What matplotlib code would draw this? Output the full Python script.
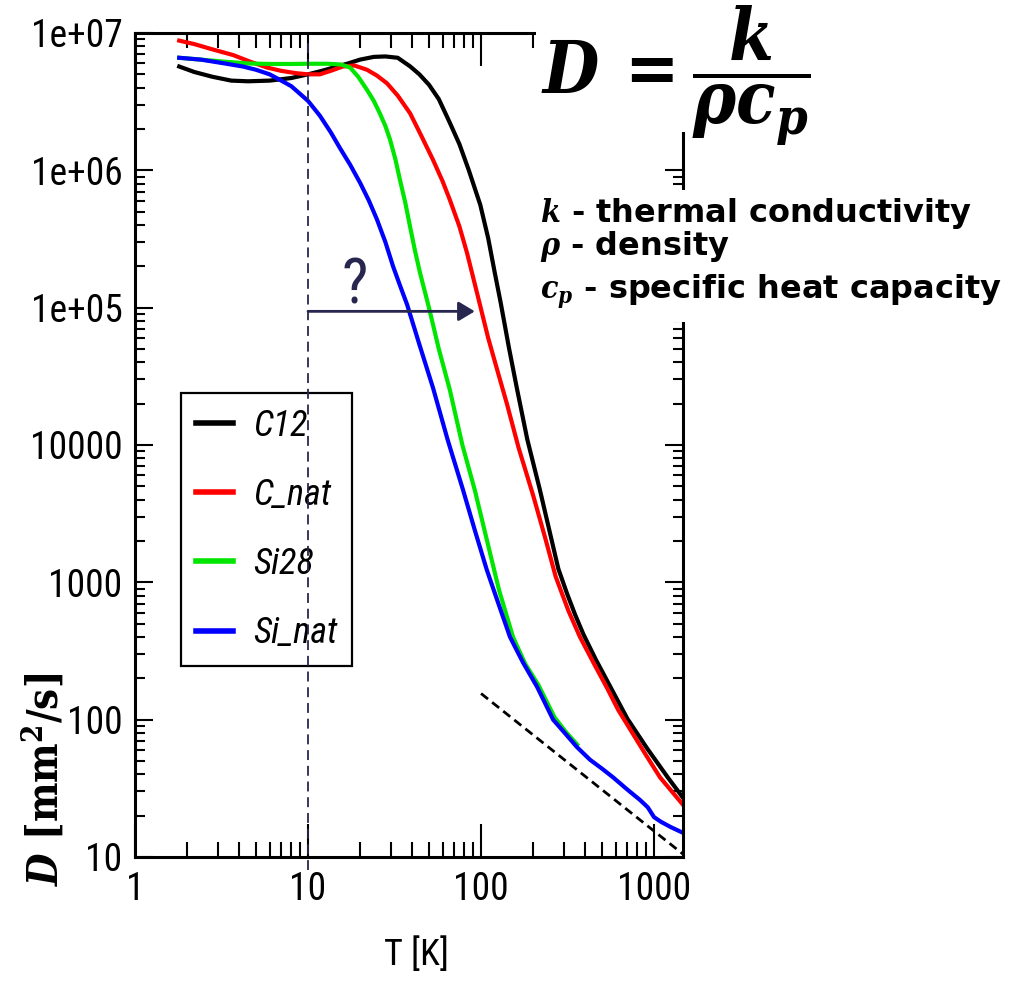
import matplotlib
matplotlib.use("Agg")
import matplotlib.pyplot as plt
from matplotlib.patches import Rectangle
from matplotlib.ticker import NullFormatter

# Thermal diffusivity D [mm^2/s] against temperature T [K]
T_C12 = [1.8, 2.2, 2.8, 3.6, 4.5, 6, 8, 10, 12, 14, 17, 20, 24, 28, 33, 39, 44, 50,
         57, 66, 75, 85, 99, 110, 120, 130, 145, 161, 185, 219, 250, 280, 315, 350,
         390, 460, 557, 700, 910, 1200, 1470]
D_C12 = [5.7e6, 5.2e6, 4.8e6, 4.5e6, 4.45e6, 4.5e6, 4.7e6, 5.0e6, 5.3e6, 5.6e6,
         6.0e6, 6.4e6, 6.7e6, 6.75e6, 6.6e6, 5.7e6, 5.0e6, 4.2e6, 3.3e6, 2.22e6,
         1.55e6, 1.0e6, 5.6e5, 3.2e5, 1.8e5, 1.08e5, 5.1e4, 2.6e4, 1.1e4, 4.7e3,
         2.3e3, 1.25e3, 820, 580, 420, 275, 175, 102, 62, 38, 27]

T_CNAT = [1.8, 2.2, 2.8, 3.7, 4.6, 5.8, 7, 8.5, 10, 11.7, 13.5, 15.9, 18.5, 21.9,
          25, 28.6, 33, 38.9, 45, 52.8, 60, 66, 75, 83, 96, 110, 125, 141, 165,
          200, 235, 270, 320, 373, 450, 535, 620, 700, 800, 900, 1083, 1470]
D_CNAT = [8.8e6, 8.3e6, 7.6e6, 6.9e6, 6.2e6, 5.6e6, 5.3e6, 5.1e6, 5.0e6, 5.0e6,
          5.3e6, 5.7e6, 5.8e6, 5.4e6, 4.9e6, 4.3e6, 3.5e6, 2.6e6, 1.8e6, 1.19e6,
          8.3e5, 6.1e5, 3.9e5, 2.5e5, 1.2e5, 6.0e4, 3.4e4, 2.0e4, 9.5e3, 4.3e3,
          2.1e3, 1.1e3, 620, 400, 255, 170, 118, 92, 70, 55, 38, 24]

T_SI28 = [1.8, 2.4, 3.2, 4.5, 6, 8, 10, 13, 15.5, 17.5, 19.5, 21.9, 24, 26, 28,
          29.8, 32, 34, 36.5, 38.9, 41.5, 44.4, 50, 57, 66, 78, 92, 108, 127, 153,
          180, 215, 266, 310, 359]
D_SI28 = [6.6e6, 6.4e6, 6.2e6, 6.0e6, 5.95e6, 5.95e6, 5.97e6, 5.97e6, 5.9e6, 5.6e6,
          4.8e6, 3.86e6, 3.2e6, 2.6e6, 2.1e6, 1.67e6, 1.2e6, 8.5e5, 5.8e5, 3.87e5,
          2.6e5, 1.79e5, 1.0e5, 5.0e4, 2.52e4, 1.0e4, 4.7e3, 2.04e3, 880, 400,
          255, 178, 104, 81, 66]

T_SINAT = [1.8, 2.4, 3.3, 4.2, 5, 6, 7, 8, 9, 10, 11.7, 13.5, 15.3, 17.5, 20, 22.5,
           25, 28, 31, 34, 37.4, 44, 52.8, 64, 78.7, 92, 108, 125, 147, 175, 211,
           261, 310, 359, 427, 500, 580, 700, 830, 920, 1000, 1100, 1250, 1470]
D_SINAT = [6.6e6, 6.4e6, 6.0e6, 5.7e6, 5.4e6, 5.0e6, 4.5e6, 4.1e6, 3.6e6, 3.2e6,
           2.5e6, 1.9e6, 1.45e6, 1.1e6, 8.1e5, 6.0e5, 4.4e5, 3.0e5, 2.0e5, 1.45e5,
           1.05e5, 5.4e4, 2.6e4, 1.1e4, 4.7e3, 2.4e3, 1.23e3, 720, 400, 260, 173,
           100, 78, 63, 51, 44, 38, 31, 26, 23, 19.5, 18, 16.5, 15]

LABELS = ["C12", "C_nat", "Si28", "Si_nat"]
COLORS = ["#000000", "#ff0000", "#00e600", "#0000ff"]

# 1/T guide line
GUIDE_T = [100, 1470]
GUIDE_D = [155, 10.5]

# marked temperature and the shift arrow
MARK_T = 10
ARROW_T = [10, 92]
ARROW_D = 9.4e4
QUESTION_T = 18.7
QUESTION_D = 1.08e5

X_TICKS = [1, 10, 100, 1000]
X_TICK_LABELS = ["1", "10", "100", "1000"]
Y_TICKS = [10, 100, 1000, 1e4, 1e5, 1e6, 1e7]
Y_TICK_LABELS = ["10", "100", "1000", "10000", "1e+05", "1e+06", "1e+07"]

NARROW = ["Roboto Condensed", "Roboto", "DejaVu Sans"]
NAVY = "#27264f"

plt.rcParams["font.family"] = NARROW
plt.rcParams["font.stretch"] = "condensed"
plt.rcParams["mathtext.fontset"] = "custom"
plt.rcParams["mathtext.rm"] = "DejaVu Serif:bold"
plt.rcParams["mathtext.it"] = "DejaVu Serif:italic:bold"
plt.rcParams["mathtext.bf"] = "DejaVu Serif:bold"

fig = plt.figure(figsize=(10.2, 9.82), dpi=100)
ax = fig.add_axes([0.1324, 0.1273, 0.5372, 0.8391])

series = [(T_C12, D_C12), (T_CNAT, D_CNAT), (T_SI28, D_SI28), (T_SINAT, D_SINAT)]
for (t, d), label, color in zip(series, LABELS, COLORS):
    ax.plot(t, d, color=color, lw=3.0, label=label, solid_joinstyle="round")

ax.plot(GUIDE_T, GUIDE_D, color="black", lw=2.0, ls=(0, (3.2, 1.9)))

ax.axvline(MARK_T, ymin=-0.016, ymax=0.99, color=NAVY, lw=1.3,
           ls=(0, (5.5, 3.2)), clip_on=False, zorder=6)
ax.annotate("", xy=(ARROW_T[1], ARROW_D), xytext=(ARROW_T[0], ARROW_D),
            arrowprops=dict(arrowstyle="-|>,head_length=0.7,head_width=0.42",
                            mutation_scale=14, lw=2.0, color=NAVY,
                            shrinkA=0, shrinkB=0))
ax.text(QUESTION_T, QUESTION_D, "?", color=NAVY, fontsize=45,
        ha="center", va="baseline")

ax.set_xscale("log")
ax.set_yscale("log")
ax.set_xlim(1, 1470)
ax.set_ylim(10, 1e7)
ax.set_xticks(X_TICKS)
ax.set_xticklabels(X_TICK_LABELS, fontsize=27)
ax.set_yticks(Y_TICKS)
ax.set_yticklabels(Y_TICK_LABELS, fontsize=27)
ax.xaxis.set_minor_formatter(NullFormatter())
ax.yaxis.set_minor_formatter(NullFormatter())

ax.tick_params(which="both", direction="in", top=True, right=True, width=1.5)
ax.xaxis.set_tick_params(which="major", length=24, pad=10)
ax.xaxis.set_tick_params(which="minor", length=11)
ax.yaxis.set_tick_params(which="major", length=13, pad=9)
ax.yaxis.set_tick_params(which="minor", length=7)
for sp in ax.spines.values():
    sp.set_linewidth(2.2)

leg = ax.legend(loc="upper left", bbox_to_anchor=(0.084, 0.563),
                prop=dict(family=NARROW, style="italic", size=26, stretch="condensed"),
                frameon=True, fancybox=False, edgecolor="black", framealpha=1,
                handlelength=1.05, handletextpad=0.55, labelspacing=0.92,
                borderpad=0.4, borderaxespad=0)
leg.get_frame().set_linewidth(1.6)
for h in leg.get_lines():
    h.set_linewidth(4)

fig.text(0.043, 0.206, r"$D\ \mathrm{[mm^2/s]}$", rotation=90,
         ha="center", va="center", fontsize=30)
fig.text(0.408, 0.0275, "T [K]", ha="center", va="center", fontsize=26)

# white panels for the definition text on the right
fig.add_artist(Rectangle((0.525, 0.866), 0.3, 0.134, transform=fig.transFigure,
                         facecolor="white", edgecolor="none", zorder=1))
fig.add_artist(Rectangle((0.52, 0.672), 0.48, 0.135, transform=fig.transFigure,
                         facecolor="white", edgecolor="none", zorder=1))

fig.text(0.530, 0.922, r"$D\,=\dfrac{k}{\rho c_p}$", ha="left", va="center",
         fontsize=52)
fig.text(0.529, 0.774, r"$k$ - thermal conductivity", ha="left", va="baseline",
         fontsize=23, family="DejaVu Sans", fontweight="bold", stretch="normal")
fig.text(0.529, 0.740, r"$\rho$ - density", ha="left", va="baseline",
         fontsize=23, family="DejaVu Sans", fontweight="bold", stretch="normal")
fig.text(0.529, 0.696, r"$c_p$ - specific heat capacity", ha="left", va="baseline",
         fontsize=23, family="DejaVu Sans", fontweight="bold", stretch="normal")

fig.savefig("out.png", dpi=100)
